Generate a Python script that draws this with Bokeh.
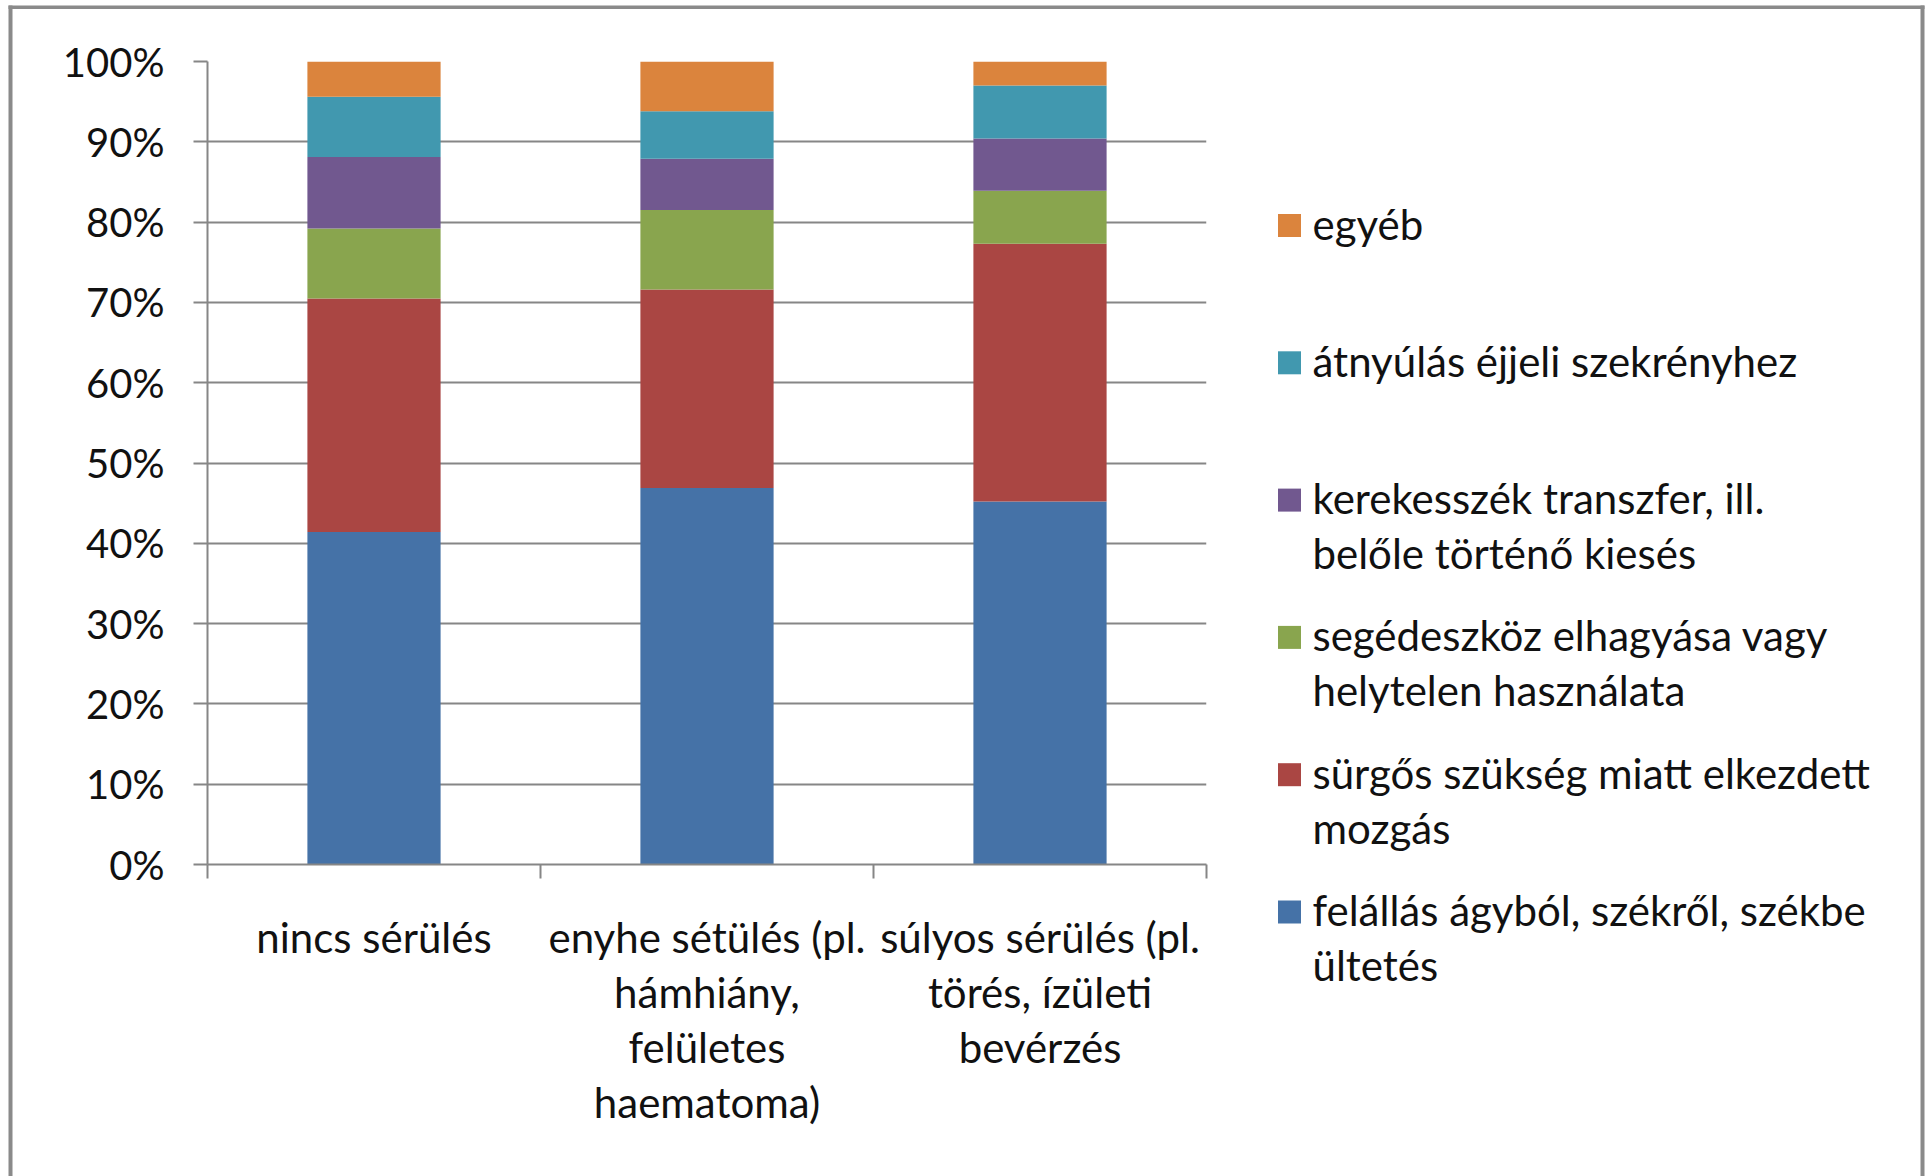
from bokeh.plotting import figure
from bokeh.models import Range1d, FixedTicker, PrintfTickFormatter, ColumnDataSource
from bokeh.core.properties import value
from bokeh.embed import file_html
from bokeh.resources import INLINE

# ---------------- data ----------------
categories = [
    "nincs sérülés",
    "enyhe sétülés (pl. hámhiány, felületes haematoma)",
    "súlyos sérülés (pl. törés, ízületi bevérzés",
]
category_labels = [
    "nincs sérülés",
    "enyhe sétülés (pl.\nhámhiány,\nfelületes\nhaematoma)",
    "súlyos sérülés (pl.\ntörés, ízületi\nbevérzés",
]
felallas = [41.4, 46.9, 45.2]
surgos = [29.1, 24.7, 32.1]
segedeszkoz = [8.7, 9.9, 6.6]
kerekesszek = [8.9, 6.4, 6.5]
atnyulas = [7.5, 5.9, 6.6]
egyeb = [4.4, 6.2, 3.0]

series_keys = ["felallas", "surgos", "segedeszkoz", "kerekesszek", "atnyulas", "egyeb"]
series_colors = ["#4572A7", "#AA4643", "#89A54E", "#71588F", "#4198AF", "#DB843D"]
legend_lines = [
    ["felállás ágyból, székről, székbe", "ültetés"],
    ["sürgős szükség miatt elkezdett", "mozgás"],
    ["segédeszköz elhagyása vagy", "helytelen használata"],
    ["kerekesszék transzfer,  ill.", "belőle történő kiesés"],
    ["átnyúlás éjjeli szekrényhez"],
    ["egyéb"],
]
y_ticks = [0, 10, 20, 30, 40, 50, 60, 70, 80, 90, 100]

# ---------------- layout ----------------
W, H = 1928, 1176
LEFT, TOP = 207, 61
FRAME_W, FRAME_H = 999, 803
RIGHT = W - LEFT - FRAME_W
BOTTOM = H - TOP - FRAME_H
NCAT = len(categories)
GRID = "#868686"
FONT = "Lato"

p = figure(width=W, height=H, output_backend="svg", toolbar_location=None,
           x_range=Range1d(0, NCAT), y_range=Range1d(0, 100),
           min_border_left=LEFT, min_border_right=RIGHT,
           min_border_top=TOP, min_border_bottom=BOTTOM)
p.outline_line_color = None
p.background_fill_color = "white"
p.border_fill_color = "white"

xs = [i + 0.5 for i in range(NCAT)]
src = ColumnDataSource(dict(x=xs, felallas=felallas, surgos=surgos, segedeszkoz=segedeszkoz,
                            kerekesszek=kerekesszek, atnyulas=atnyulas, egyeb=egyeb))
p.vbar_stack(series_keys, x="x", width=0.4, color=series_colors, line_color=None, source=src)

# grid
p.xgrid.visible = False
p.ygrid.ticker = FixedTicker(ticks=y_ticks)
p.ygrid.grid_line_color = GRID
p.ygrid.grid_line_width = 2

# y axis
ya = p.yaxis[0]
ya.ticker = FixedTicker(ticks=y_ticks)
ya.formatter = PrintfTickFormatter(format="%d%%")
ya.axis_line_color = GRID
ya.axis_line_width = 2
ya.major_tick_line_color = GRID
ya.major_tick_line_width = 2
ya.major_tick_out = 14
ya.major_tick_in = 0
ya.minor_tick_line_color = None
ya.major_label_standoff = 29
ya.major_label_text_font = FONT
ya.major_label_text_font_size = "40px"
ya.major_label_text_color = "#111111"

# x axis
xa = p.xaxis[0]
xa.ticker = FixedTicker(ticks=xs, minor_ticks=list(range(NCAT + 1)))
xa.major_label_overrides = {x: lab for x, lab in zip(xs, category_labels)}
xa.axis_line_color = GRID
xa.axis_line_width = 2
xa.major_tick_line_color = None
xa.major_tick_out = 14
xa.major_tick_in = 0
xa.minor_tick_line_color = GRID
xa.minor_tick_line_width = 2
xa.minor_tick_out = 14
xa.minor_tick_in = 0
xa.major_label_standoff = 33
xa.major_label_text_font = FONT
xa.major_label_text_font_size = "42px"
xa.major_label_text_color = "#111111"
xa.major_label_text_line_height = 1.1

# screen px -> data
px_x = FRAME_W / NCAT
px_y = FRAME_H / 100.0
def dx(fx):
    return (fx - LEFT) / px_x
def dy(fy):
    return (TOP + FRAME_H - fy) / px_y

# legend (top to bottom = reverse of stacking order)
sq_x, sq_y0, sq_step, sq_half = 1289, 225, 137.3, 11.5
txt_x, base_off, line_h = 1312, -2, 55
ql, qr, qt, qb, qc = [], [], [], [], []
tx, ty, tt = [], [], []
order = list(range(len(series_keys)))[::-1]
for row, k in enumerate(order):
    cy = sq_y0 + row * sq_step
    ql.append(dx(sq_x - sq_half)); qr.append(dx(sq_x + sq_half))
    qt.append(dy(cy - sq_half)); qb.append(dy(cy + sq_half)); qc.append(series_colors[k])
    for j, line in enumerate(legend_lines[k]):
        tx.append(dx(txt_x)); ty.append(dy(cy + base_off + j * line_h)); tt.append(line)
p.quad(left=ql, right=qr, top=qt, bottom=qb, fill_color=qc, line_color=None, level="overlay")
p.text(tx, ty, text=tt, text_font=value(FONT), text_font_size="42px",
       text_baseline="alphabetic", text_align="left", text_color="#111111", level="overlay")

# chart-area border (left, top, right)
BX0, BX1, BY0, BY1 = 8, 1924, 5, 8.5
BW = 4
p.quad(left=[dx(BX0), dx(BX0), dx(BX1 - BW)], right=[dx(BX0 + BW), dx(BX1), dx(BX1)],
       top=[dy(BY0), dy(BY0), dy(BY0)], bottom=[dy(H), dy(BY1), dy(H)],
       fill_color="#8a8a8a", line_color=None, level="overlay")

open("out.html", "w").write(file_html(p, INLINE))
